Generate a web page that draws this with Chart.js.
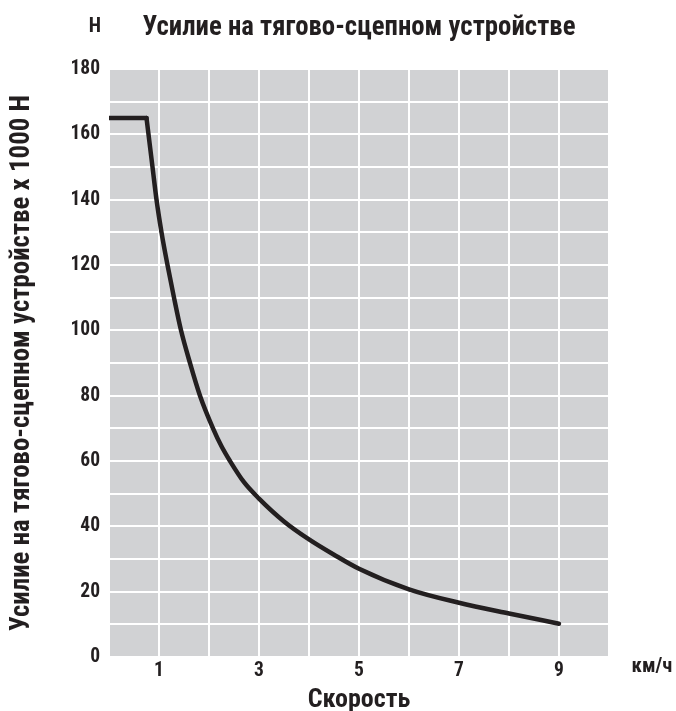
<!DOCTYPE html>
<html>
<head>
<meta charset="utf-8">
<script src="https://cdn.jsdelivr.net/npm/chart.js@4/dist/chart.umd.min.js"></script>
<style>
  html, body { margin: 0; padding: 0; background: #ffffff; }
  #wrap { width: 676px; height: 711px; position: relative; }
</style>
</head>
<body>
<div id="wrap"><canvas id="c" width="676" height="711"></canvas></div>
<script>
// ---- data ----
const flatSpeed = [0, 0.75];
const flatForce = [165, 165];
const curveSpeed = [0.75, 0.87, 0.95, 1.05, 1.17, 1.3, 1.44, 1.62, 1.82, 2.08, 2.25, 2.42, 2.7, 3, 3.5, 4, 4.5, 5, 6, 7, 8, 9];
const curveForce = [165, 150, 140, 130, 120, 110, 100, 90, 80, 70, 64.5, 60, 53.5, 48.5, 41.5, 36, 31.3, 27, 20.7, 16.6, 13.3, 10.2];
const xTickLabels = ['1', '3', '5', '7', '9'];
const yTickLabels = ['0', '20', '40', '60', '80', '100', '120', '140', '160', '180'];
const titleText = 'Усилие на тягово-сцепном устройстве';
const yUnitText = 'Н';
const xUnitText = 'км/ч';
const xAxisTitle = 'Скорость';
const yAxisTitle = 'Усилие на тягово-сцепном устройстве x 1000 Н';

const FONT = '"Roboto Condensed", Roboto, "Liberation Sans", sans-serif';
const INK = '#231f20';
const PLOT_BG = '#d1d2d4';

const toXY = (xs, ys) => xs.map((x, i) => ({ x: x, y: ys[i] }));

const decoPlugin = {
  id: 'deco',
  beforeDraw(chart) {
    const a = chart.chartArea, ctx = chart.ctx;
    ctx.save();
    ctx.fillStyle = PLOT_BG;
    ctx.fillRect(a.left, a.top, a.right - a.left, a.bottom - a.top);
    ctx.restore();
  },
  afterDraw(chart) {
    const a = chart.chartArea, ctx = chart.ctx;
    ctx.save();
    ctx.fillStyle = INK;
    ctx.textAlign = 'center';
    ctx.textBaseline = 'middle';
    ctx.font = 'bold 26.8px ' + FONT;
    ctx.fillText(titleText, (a.left + a.right) / 2, 28);
    ctx.font = 'bold 20px ' + FONT;
    ctx.fillText(yUnitText, 95, 26.5);
    ctx.font = 'bold 20.5px ' + FONT;
    ctx.fillText(xUnitText, a.right + 43, 667);
    ctx.restore();
  }
};

new Chart(document.getElementById('c'), {
  type: 'line',
  data: {
    datasets: [
      {
        data: toXY(flatSpeed, flatForce),
        borderColor: INK, borderWidth: 4.5, pointRadius: 0, tension: 0,
        borderCapStyle: 'round', borderJoinStyle: 'miter'
      },
      {
        data: toXY(curveSpeed, curveForce),
        borderColor: INK, borderWidth: 4.5, pointRadius: 0,
        cubicInterpolationMode: 'monotone',
        borderCapStyle: 'round', borderJoinStyle: 'round'
      }
    ]
  },
  options: {
    responsive: false,
    animation: false,
    events: [],
    layout: { padding: { left: 0, right: 67, top: 69, bottom: 0 } },
    plugins: {
      legend: { display: false },
      tooltip: { enabled: false },
      title: { display: false }
    },
    scales: {
      x: {
        type: 'linear',
        min: 0, max: 10,
        border: { display: false },
        grid: { color: '#ffffff', lineWidth: 2, drawTicks: false },
        ticks: {
          stepSize: 1,
          autoSkip: false,
          maxRotation: 0,
          padding: 2,
          color: INK,
          font: { family: FONT, size: 19.5, weight: 'bold' },
          callback: (v) => xTickLabels.includes(String(v)) ? String(v) : ''
        },
        title: {
          display: true,
          text: xAxisTitle,
          color: INK,
          font: { family: FONT, size: 26, weight: 'bold', lineHeight: 0.8 },
          padding: { top: 0, bottom: 0 }
        },
        afterFit: (s) => { s.height = 54; }
      },
      y: {
        type: 'linear',
        min: 0, max: 180,
        border: { display: false },
        grid: { color: '#ffffff', lineWidth: 2, drawTicks: false },
        ticks: {
          stepSize: 10,
          autoSkip: false,
          padding: 9,
          color: INK,
          font: { family: FONT, size: 19.5, weight: 'bold' },
          callback: (v) => yTickLabels.includes(String(v)) ? String(v) : ''
        },
        title: {
          display: true,
          text: yAxisTitle,
          color: INK,
          font: { family: FONT, size: 26.9, weight: 'bold', lineHeight: 1 },
          padding: { top: 9, bottom: 0 }
        },
        afterFit: (s) => { s.width = 109; }
      }
    }
  },
  plugins: [decoPlugin]
});
</script>
</body>
</html>
